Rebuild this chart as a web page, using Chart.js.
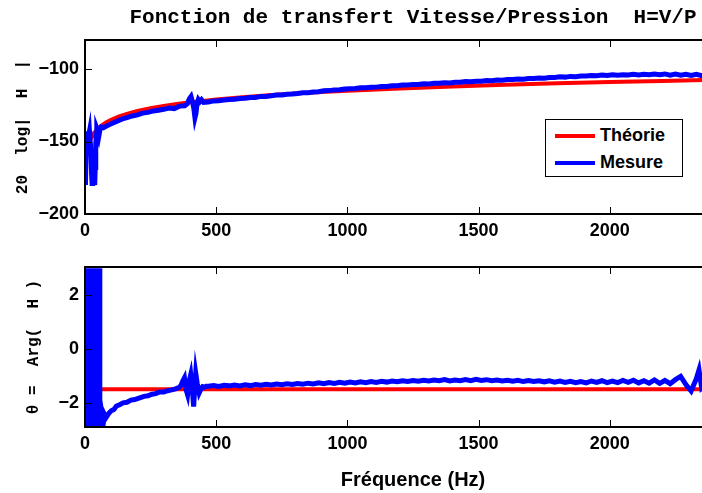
<!DOCTYPE html>
<html lang="fr">
<head>
<meta charset="utf-8">
<title>Fonction de transfert Vitesse/Pression</title>
<script src="https://cdn.jsdelivr.net/npm/chart.js@4.4.1/dist/chart.umd.min.js"></script>
<style>
    html, body { margin: 0; padding: 0; background: #fff; }
    #figure { position: relative; width: 702px; height: 493px; overflow: hidden; }
    canvas { position: absolute; left: 0; }
    #legende {
        position: absolute; left: 545px; top: 119px;
        width: 136px; height: 56px;
        border: 1.5px solid #000; background: #fff;
        font: bold 18px 'Liberation Sans', Arial, sans-serif;
    }
    #legende .entree { position: absolute; left: 9px; height: 20px; }
    #legende .trait { position: absolute; left: 0; top: 8px; width: 40px; height: 4px; }
    #legende .texte { position: absolute; left: 45px; top: -1px; white-space: nowrap; }
</style>
</head>
<body>
<div id="figure">
    <canvas id="chartModule" width="826" height="250" style="top:0"></canvas>
    <canvas id="chartPhase" width="826" height="243" style="top:250px"></canvas>
    <div id="legende"></div>
</div>
<script>
// ============================================
// Fonction de transfert Vitesse/Pression H=V/P
// ============================================

const TITRE        = 'Fonction de transfert Vitesse/Pression  H=V/P';
const LABEL_MODULE = '20  log|  H  |';
const LABEL_PHASE  = 'θ =  Arg(  H )';
const LABEL_FREQ   = 'Fréquence (Hz)';
const NOMS_SERIES  = ['Théorie', 'Mesure'];

// ── Axes ──
const FREQ_MIN = 0, FREQ_MAX = 2500;
const TICKS_FREQ = [0, 500, 1000, 1500, 2000, 2500];
const MODULE_MIN = -200, MODULE_MAX = -80;
const TICKS_MODULE = [-200, -150, -100];
const PHASE_MIN = -2.9, PHASE_MAX = 3.05;
const TICKS_PHASE = [-2, 0, 2];

// ── Module : théorie ──
const FREQ_MODULE_THEO = [
    20, 30, 40, 50, 60, 80, 100, 130, 160, 200,
    250, 300, 350, 400, 450, 500, 600, 700, 800, 900,
    1000, 1200, 1400, 1600, 1800, 2000, 2200, 2400, 2500
];
const MODULE_THEO = [
    -149, -145.5, -143, -141, -139.4, -136.9, -135, -132.7, -130.9, -129,
    -127, -125.5, -124.1, -123, -122, -121, -119.4, -118.1, -116.9, -115.9,
    -115, -113.4, -112.1, -110.9, -109.9, -109, -108.2, -107.4, -107
];

// ── Module : mesure ──
const FREQ_MODULE_MES = [
    0, 1, 2, 3, 5, 7, 9, 11, 13, 15,
    17, 19, 21, 23, 25, 27, 29, 31, 33, 35,
    37, 39, 41, 43, 45, 47, 49, 52, 55, 58,
    62, 70, 80, 90, 100, 120, 140, 160, 180, 200,
    220, 240, 260, 280, 300, 320, 340, 360, 380, 390,
    398, 404, 410, 415, 419, 423, 427, 432, 438, 444,
    452, 470, 490, 510, 530, 550, 570, 590, 610, 630,
    650, 670, 690, 710, 730, 750, 770, 790, 810, 830,
    850, 870, 890, 910, 930, 950, 970, 990, 1010, 1030,
    1050, 1070, 1090, 1110, 1130, 1150, 1170, 1190, 1210, 1230,
    1250, 1270, 1290, 1310, 1330, 1350, 1370, 1390, 1410, 1430,
    1450, 1470, 1490, 1510, 1530, 1550, 1570, 1590, 1610, 1630,
    1650, 1670, 1690, 1710, 1730, 1750, 1770, 1790, 1810, 1830,
    1850, 1870, 1890, 1910, 1930, 1950, 1970, 1990, 2010, 2030,
    2050, 2070, 2090, 2110, 2130, 2150, 2170, 2190, 2210, 2230,
    2250, 2270, 2290, 2310, 2330, 2350, 2370, 2390
];
const MODULE_MES = [
    -148, -180, -160, -178, -146, -143, -150, -158, -147, -145,
    -143, -149, -152, -160, -172, -179, -178, -174, -165, -178,
    -180, -168, -152, -146, -141, -142, -145, -147, -144, -141,
    -140, -140.5, -139.5, -138.6, -137.8, -136.2, -134.6, -133.6, -132.4, -131.6,
    -130.4, -129.9, -128.9, -128.4, -127.8, -126.9, -127.3, -125.6, -125.4, -124.0,
    -120.5, -119.0, -123.0, -127.5, -133.5, -130.5, -124.0, -121.0, -122.5, -121.2,
    -123.0, -122.8, -122.0, -121.9, -121.4, -121.0, -120.9, -120.3, -120.2, -119.6,
    -119.6, -118.9, -118.9, -118.5, -118.0, -117.9, -117.4, -117.3, -116.9, -116.4,
    -116.3, -115.8, -115.7, -115.0, -114.9, -114.4, -114.3, -113.8, -113.6, -113.4,
    -113.0, -112.9, -112.6, -112.5, -112.0, -112.0, -111.5, -111.6, -111.1, -111.0,
    -110.7, -110.7, -110.2, -110.3, -109.9, -109.9, -109.5, -109.6, -109.1, -109.2,
    -108.7, -108.8, -108.4, -108.4, -108.0, -108.1, -107.6, -107.7, -107.3, -107.3,
    -106.9, -107.0, -106.6, -106.5, -106.2, -106.3, -105.8, -105.8, -105.4, -105.6,
    -105.1, -105.3, -104.8, -104.9, -104.5, -104.7, -104.2, -104.5, -104.0, -104.3,
    -103.9, -104.2, -103.7, -104.1, -103.6, -104.0, -103.5, -103.9, -103.4, -104.2,
    -103.5, -104.3, -103.6, -104.4, -103.6, -104.6, -103.8, -104.5
];

// ── Phase : théorie ──
const FREQ_PHASE_THEO = [0, 2500];
const PHASE_THEO = [-1.5, -1.5];

// ── Phase : mesure ──
const FREQ_PHASE_MES = [
    0, 2, 4, 6, 8, 10, 12, 14, 16, 18,
    20, 22, 24, 26, 28, 30, 32, 34, 36, 38,
    40, 42, 44, 46, 48, 50, 52, 54, 56, 57,
    58, 62, 66, 70, 75, 80, 90, 100, 110, 120,
    132, 145, 160, 175, 190, 208, 225, 240, 255, 270,
    284, 300, 315, 330, 345, 360, 366, 372, 379, 385,
    391, 397, 403, 409, 414, 418, 422, 428, 435, 441,
    448, 455, 462, 470, 490, 510, 530, 550, 570, 590,
    610, 630, 650, 670, 690, 710, 730, 750, 770, 790,
    810, 830, 850, 870, 890, 910, 930, 950, 970, 990,
    1010, 1030, 1050, 1070, 1090, 1110, 1130, 1150, 1170, 1190,
    1210, 1230, 1250, 1270, 1290, 1310, 1330, 1350, 1370, 1390,
    1410, 1430, 1450, 1470, 1490, 1510, 1530, 1550, 1570, 1590,
    1610, 1630, 1650, 1670, 1690, 1710, 1730, 1750, 1770, 1790,
    1810, 1830, 1850, 1870, 1890, 1910, 1930, 1950, 1970, 1990,
    2010, 2030, 2050, 2070, 2090, 2110, 2130, 2150, 2170, 2190,
    2210, 2230, 2250, 2270, 2290, 2310, 2330, 2340, 2350, 2390
];
const PHASE_MES = [
    2.9, -2.9, 3.0, -3.0, 2.7, -2.8, 3.0, -3.0, 2.8, -2.9,
    3.0, -2.6, 2.9, -3.0, 2.6, -2.9, 3.0, -3.0, 2.9, -2.8,
    3.0, -3.0, 2.8, -2.9, 3.0, -3.0, 2.9, -2.8, 3.0, -2.9,
    -2.6, -2.9, -2.5, -2.75, -2.45, -2.55, -2.4, -2.3, -2.25, -2.12,
    -2.07, -2.0, -1.98, -1.9, -1.88, -1.82, -1.76, -1.74, -1.68, -1.66,
    -1.6, -1.6, -1.55, -1.52, -1.48, -1.42, -1.35, -1.2, -1.07, -1.5,
    -1.7, -1.2, -0.95, -1.5, -2.14, -1.5, -0.9, -1.3, -1.63, -1.5,
    -1.4, -1.42, -1.38, -1.38, -1.36, -1.39, -1.35, -1.37, -1.34, -1.37,
    -1.33, -1.36, -1.32, -1.35, -1.31, -1.34, -1.30, -1.33, -1.29, -1.32,
    -1.28, -1.31, -1.27, -1.30, -1.26, -1.29, -1.25, -1.28, -1.24, -1.27,
    -1.23, -1.26, -1.22, -1.25, -1.21, -1.24, -1.20, -1.23, -1.19, -1.22,
    -1.18, -1.21, -1.17, -1.20, -1.16, -1.19, -1.15, -1.18, -1.14, -1.19,
    -1.15, -1.18, -1.14, -1.18, -1.13, -1.17, -1.14, -1.18, -1.15, -1.19,
    -1.16, -1.20, -1.16, -1.21, -1.17, -1.21, -1.18, -1.22, -1.18, -1.23,
    -1.19, -1.24, -1.20, -1.25, -1.21, -1.26, -1.19, -1.24, -1.18, -1.25,
    -1.19, -1.25, -1.17, -1.24, -1.16, -1.26, -1.18, -1.27, -1.15, -1.28,
    -1.17, -1.29, -1.14, -1.02, -1.32, -1.56, -1.10, -0.78, -1.45, -1.10
];

const ROUGE = '#ff0000';
const BLEU  = '#0000ff';
const SANS  = "'Liberation Sans', Arial, Helvetica, sans-serif";
const MONO  = "'Liberation Mono', 'Courier New', Courier, monospace";

Chart.defaults.font.family = SANS;
Chart.defaults.color = '#000';

function points(freqs, valeurs) {
    if (freqs.length !== valeurs.length) console.warn('longueurs différentes', freqs.length, valeurs.length);
    return freqs.map((f, i) => ({ x: f, y: valeurs[i] }));
}

// Cadre + graduations vers l'intérieur (style MATLAB)
const cadre = {
    id: 'cadre',
    afterDatasetsDraw(chart) {
        const { ctx, chartArea: a, scales: { x, y } } = chart;
        ctx.save();
        ctx.strokeStyle = '#000';
        ctx.lineWidth = 1;
        ctx.beginPath();
        x.ticks.forEach(t => {
            const px = Math.round(x.getPixelForValue(t.value)) + 0.5;
            ctx.moveTo(px, a.bottom); ctx.lineTo(px, a.bottom - 7);
            ctx.moveTo(px, a.top);    ctx.lineTo(px, a.top + 7);
        });
        y.ticks.forEach(t => {
            const py = Math.round(y.getPixelForValue(t.value)) + 0.5;
            ctx.moveTo(a.left, py);  ctx.lineTo(a.left + 7, py);
            ctx.moveTo(a.right, py); ctx.lineTo(a.right - 7, py);
        });
        ctx.stroke();
        ctx.lineWidth = 2;
        ctx.strokeRect(a.left, a.top, a.right - a.left, a.bottom - a.top);
        ctx.restore();
    }
};

function echelleX(hauteur, titre) {
    return {
        type: 'linear',
        min: FREQ_MIN,
        max: FREQ_MAX,
        afterBuildTicks: s => { s.ticks = TICKS_FREQ.map(v => ({ value: v })); },
        afterFit: s => { s.height = hauteur; },
        grid: { display: false, drawTicks: false },
        border: { display: false },
        ticks: {
            padding: 6,
            maxRotation: 0,
            font: { size: 18, weight: 'bold' },
            callback: v => String(v)
        },
        title: titre ? {
            display: true,
            text: titre,
            font: { size: 20, weight: 'bold' },
            padding: { top: 0, bottom: 1 }
        } : { display: false }
    };
}

function echelleY(min, max, ticks, titre, decalage) {
    return {
        min: min,
        max: max,
        afterBuildTicks: s => { s.ticks = ticks.map(v => ({ value: v })); },
        afterFit: s => { s.width = 85; },
        grid: { display: false, drawTicks: false },
        border: { display: false },
        ticks: {
            padding: 6,
            font: { size: 18, weight: 'bold' },
            callback: v => String(v).replace('-', '\u2212')
        },
        title: {
            display: true,
            text: titre,
            font: { family: MONO, size: 16, weight: 'bold' },
            padding: { top: decalage, bottom: 0 }
        }
    };
}

function serie(nom, couleur, data, ordre, epaisseur) {
    return {
        label: nom,
        data: data,
        borderColor: couleur,
        backgroundColor: couleur,
        borderWidth: epaisseur,
        pointRadius: 0,
        tension: 0,
        order: ordre
    };
}

// ── Module ──
const chartModule = new Chart(document.getElementById('chartModule'), {
    type: 'line',
    data: {
        datasets: [
            serie(NOMS_SERIES[0], ROUGE, points(FREQ_MODULE_THEO, MODULE_THEO), 1, 4),
            serie(NOMS_SERIES[1], BLEU,  points(FREQ_MODULE_MES,  MODULE_MES),  0, 5)
        ]
    },
    options: {
        responsive: false,
        animation: false,
        devicePixelRatio: 1,
        layout: { padding: { top: 0, right: 85, bottom: 0, left: 0 } },
        plugins: {
            legend: { display: false },
            tooltip: { enabled: false },
            title: {
                display: true,
                text: TITRE,
                fullSize: false,
                color: '#000',
                font: { family: MONO, size: 21, weight: 'bold', lineHeight: 1.2 },
                padding: { top: 5, bottom: 9.8 }
            }
        },
        scales: {
            x: echelleX(36, null),
            y: echelleY(MODULE_MIN, MODULE_MAX, TICKS_MODULE, LABEL_MODULE, 13)
        }
    },
    plugins: [cadre]
});

// ── Phase ──
new Chart(document.getElementById('chartPhase'), {
    type: 'line',
    data: {
        datasets: [
            serie(NOMS_SERIES[0], ROUGE, points(FREQ_PHASE_THEO, PHASE_THEO), 1, 4),
            serie(NOMS_SERIES[1], BLEU,  points(FREQ_PHASE_MES,  PHASE_MES),  0, 5)
        ]
    },
    options: {
        responsive: false,
        animation: false,
        devicePixelRatio: 1,
        layout: { padding: { top: 17, right: 85, bottom: 0, left: 0 } },
        plugins: {
            legend: { display: false },
            tooltip: { enabled: false }
        },
        scales: {
            x: echelleX(66, LABEL_FREQ),
            y: echelleY(PHASE_MIN, PHASE_MAX, TICKS_PHASE, LABEL_PHASE, 24)
        }
    },
    plugins: [cadre]
});

// ── Légende (encadré dans le graphe du module) ──
document.getElementById('legende').innerHTML =
    chartModule.data.datasets.map((d, i) => `
        <div class="entree" style="top:${6 + i * 27}px">
            <span class="trait" style="background:${d.borderColor}"></span>
            <span class="texte">${d.label}</span>
        </div>
    `).join('');
</script>
</body>
</html>
